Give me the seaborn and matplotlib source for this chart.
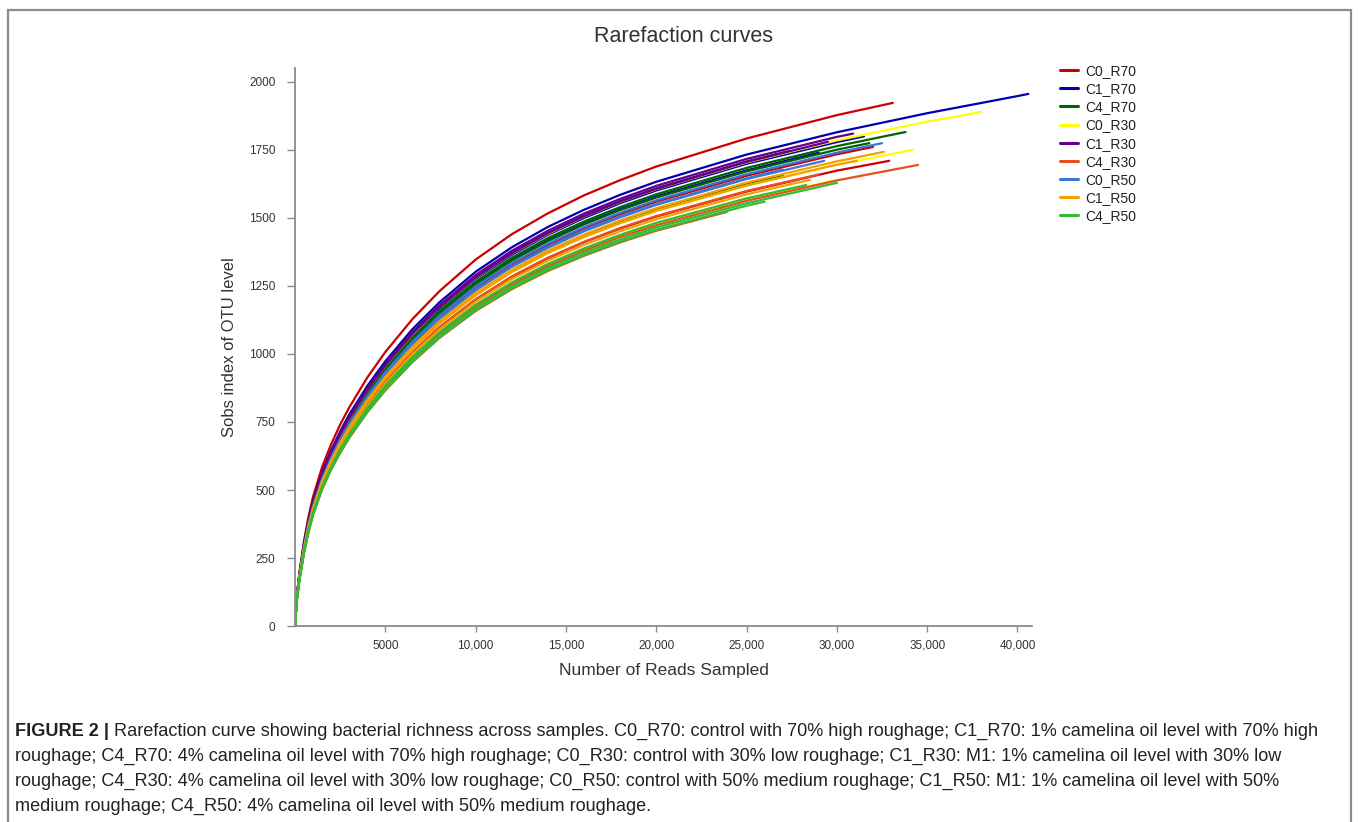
import pandas as pd
import seaborn as sns
import matplotlib.pyplot as plt
from matplotlib.patches import Rectangle
from matplotlib.ticker import FuncFormatter

# Rarefaction grid (reads sampled) shared by all samples
READ_DEPTHS = [0, 100, 250, 500, 750, 1000, 1500, 2000, 2500, 3000, 4000, 5000, 6500,
               8000, 10000, 12000, 14000, 16000, 18000, 20000, 25000, 30000, 35000, 40000]

GROUPS = ["C0_R70", "C1_R70", "C4_R70", "C0_R30", "C1_R30",
          "C4_R30", "C0_R50", "C1_R50", "C4_R50"]
PALETTE = ["#CC0000", "#0000B0", "#006400", "#FFFF00", "#660088",
           "#E8501E", "#3A75D8", "#F5A000", "#33BB33"]

# final sequencing depth of each sample, and Sobs read along the grid (last value = at final depth)
c0_r70_ends = [33100, 32900, 32000]
c0_r70_sobs = [
    [0, 109, 199, 313, 402, 475, 584, 668, 740, 803, 913, 1007, 1128, 1231, 1347, 1440, 1517, 1583, 1639, 1689, 1792, 1878, 1923],
    [0, 97, 177, 279, 358, 423, 520, 596, 659, 716, 813, 897, 1005, 1097, 1200, 1283, 1352, 1411, 1461, 1505, 1597, 1674, 1710],
    [0, 101, 183, 289, 371, 438, 539, 617, 683, 742, 843, 930, 1042, 1137, 1243, 1330, 1401, 1462, 1514, 1560, 1655, 1734, 1761],
]
c1_r70_ends = [40600, 31500, 29000]
c1_r70_sobs = [
    [0, 106, 192, 302, 389, 459, 564, 646, 715, 777, 882, 973, 1091, 1190, 1302, 1392, 1467, 1530, 1585, 1633, 1733, 1815, 1885, 1948, 1956],
    [0, 104, 188, 296, 381, 450, 553, 633, 701, 761, 865, 954, 1069, 1167, 1276, 1364, 1438, 1500, 1554, 1601, 1699, 1779, 1800],
    [0, 102, 186, 292, 376, 444, 546, 625, 691, 751, 853, 941, 1054, 1151, 1258, 1346, 1418, 1479, 1532, 1579, 1675, 1740],
]
c4_r70_ends = [33800, 31800, 27000]
c4_r70_sobs = [
    [0, 103, 187, 294, 378, 446, 549, 628, 695, 755, 857, 946, 1060, 1157, 1265, 1353, 1426, 1487, 1540, 1587, 1684, 1764, 1816],
    [0, 102, 185, 292, 375, 443, 544, 623, 690, 749, 851, 939, 1052, 1148, 1256, 1343, 1415, 1476, 1529, 1575, 1671, 1751, 1775],
    [0, 99, 180, 284, 365, 430, 529, 606, 671, 728, 827, 913, 1022, 1116, 1220, 1305, 1375, 1435, 1486, 1531, 1625, 1656],
]
c0_r30_ends = [38000, 34200, 30000]
c0_r30_sobs = [
    [0, 104, 189, 297, 382, 451, 555, 635, 703, 764, 868, 957, 1072, 1171, 1280, 1369, 1442, 1505, 1559, 1606, 1704, 1785, 1854, 1890],
    [0, 99, 179, 283, 363, 429, 527, 604, 668, 726, 824, 910, 1019, 1112, 1216, 1301, 1371, 1430, 1481, 1526, 1619, 1696, 1750],
    [0, 95, 173, 273, 351, 414, 510, 583, 646, 701, 797, 879, 985, 1075, 1176, 1257, 1325, 1382, 1431, 1475, 1565, 1640],
]
c1_r30_ends = [30900, 27300, 29500]
c1_r30_sobs = [
    [0, 105, 190, 300, 385, 455, 559, 640, 708, 769, 874, 964, 1080, 1179, 1290, 1379, 1453, 1516, 1570, 1618, 1717, 1798, 1810],
    [0, 104, 189, 298, 383, 452, 556, 637, 705, 765, 869, 959, 1075, 1173, 1283, 1372, 1445, 1508, 1562, 1609, 1708, 1745],
    [0, 104, 189, 298, 383, 452, 556, 636, 704, 765, 868, 958, 1074, 1172, 1281, 1370, 1444, 1506, 1560, 1607, 1706, 1780],
]
c4_r30_ends = [34500, 23900, 29000]
c4_r30_sobs = [
    [0, 95, 173, 273, 351, 414, 509, 583, 645, 701, 796, 878, 984, 1074, 1174, 1256, 1323, 1380, 1430, 1473, 1563, 1638, 1695],
    [0, 94, 171, 269, 346, 408, 502, 575, 636, 691, 785, 866, 970, 1059, 1158, 1238, 1305, 1361, 1410, 1453, 1522],
    [0, 97, 177, 279, 359, 424, 521, 596, 660, 717, 814, 898, 1006, 1099, 1201, 1285, 1354, 1412, 1463, 1507, 1599, 1660],
]
c0_r50_ends = [29300, 32500, 27000]
c0_r50_sobs = [
    [0, 100, 182, 287, 369, 435, 535, 612, 678, 736, 836, 923, 1034, 1128, 1234, 1320, 1390, 1451, 1502, 1548, 1643, 1710],
    [0, 101, 184, 290, 373, 440, 541, 619, 685, 744, 845, 933, 1045, 1141, 1248, 1334, 1406, 1466, 1519, 1565, 1661, 1740, 1775],
    [0, 100, 182, 287, 369, 436, 536, 614, 679, 738, 838, 925, 1036, 1131, 1237, 1322, 1394, 1454, 1506, 1551, 1646, 1678],
]
c1_r50_ends = [32600, 31100, 28500]
c1_r50_sobs = [
    [0, 99, 181, 284, 366, 432, 531, 608, 673, 731, 830, 916, 1026, 1120, 1224, 1309, 1380, 1439, 1491, 1536, 1630, 1708, 1743],
    [0, 99, 179, 283, 363, 429, 527, 604, 668, 726, 824, 910, 1019, 1112, 1216, 1301, 1371, 1430, 1481, 1526, 1619, 1696, 1710],
    [0, 97, 176, 277, 356, 420, 517, 592, 655, 711, 808, 891, 999, 1090, 1192, 1275, 1343, 1401, 1451, 1495, 1587, 1640],
]
c4_r50_ends = [28300, 26000, 30000]
c4_r50_sobs = [
    [0, 96, 174, 274, 353, 416, 512, 586, 649, 705, 800, 883, 989, 1080, 1181, 1263, 1331, 1388, 1438, 1482, 1572, 1621],
    [0, 94, 171, 270, 347, 409, 503, 576, 638, 693, 787, 868, 972, 1061, 1161, 1241, 1308, 1364, 1413, 1456, 1545, 1560],
    [0, 95, 172, 271, 349, 412, 506, 579, 641, 697, 791, 873, 978, 1068, 1168, 1248, 1316, 1372, 1421, 1465, 1554, 1629],
]

GROUP_DATA = [
    (c0_r70_ends, c0_r70_sobs), (c1_r70_ends, c1_r70_sobs), (c4_r70_ends, c4_r70_sobs),
    (c0_r30_ends, c0_r30_sobs), (c1_r30_ends, c1_r30_sobs), (c4_r30_ends, c4_r30_sobs),
    (c0_r50_ends, c0_r50_sobs), (c1_r50_ends, c1_r50_sobs), (c4_r50_ends, c4_r50_sobs),
]

CAPTION_BOLD = "FIGURE 2 | "
CAPTION_LINES = [
    "Rarefaction curve showing bacterial richness across samples. C0_R70: control with 70% high roughage; C1_R70: 1% camelina oil level with 70% high",
    "roughage; C4_R70: 4% camelina oil level with 70% high roughage; C0_R30: control with 30% low roughage; C1_R30: M1: 1% camelina oil level with 30% low",
    "roughage; C4_R30: 4% camelina oil level with 30% low roughage; C0_R50: control with 50% medium roughage; C1_R50: M1: 1% camelina oil level with 50%",
    "medium roughage; C4_R50: 4% camelina oil level with 50% medium roughage.",
]


def build_long_table():
    """Turn the per-group lists into one long table for seaborn."""
    rows = []
    for group, (ends, sobs_list) in zip(GROUPS, GROUP_DATA):
        for rep, (end, sobs) in enumerate(zip(ends, sobs_list)):
            depths = [d for d in READ_DEPTHS if d < end] + [end]
            assert len(depths) == len(sobs), (group, rep, len(depths), len(sobs))
            for d, s in zip(depths, sobs):
                rows.append({"group": group, "sample": f"{group}_{rep}", "reads": d, "sobs": s})
    return pd.DataFrame(rows)


def main():
    sns.set_style("white")
    plt.rcParams["font.family"] = ["Liberation Sans", "DejaVu Sans"]

    data = build_long_table()

    fig = plt.figure(figsize=(13.58, 8.22), dpi=100)
    ax = fig.add_axes([0.2172, 0.2384, 0.5427, 0.6788])

    sns.lineplot(data=data, x="reads", y="sobs", hue="group", units="sample",
                 estimator=None, sort=False, palette=PALETTE, hue_order=GROUPS,
                 linewidth=1.6, ax=ax)

    ax.set_xlim(0, 40800)
    ax.set_ylim(0, 2051)
    ax.set_xticks([5000, 10000, 15000, 20000, 25000, 30000, 35000, 40000])
    ax.set_yticks(range(0, 2001, 250))
    ax.xaxis.set_major_formatter(FuncFormatter(lambda v, p: f"{int(v):,}" if v >= 10000 else f"{int(v)}"))

    for side in ["top", "right"]:
        ax.spines[side].set_visible(False)
    for side in ["left", "bottom"]:
        ax.spines[side].set_color("#8a8a8a")
        ax.spines[side].set_linewidth(1.3)
    ax.tick_params(axis="y", length=6, width=1, color="#8a8a8a", pad=8, labelsize=8.5, labelcolor="#333333")
    ax.tick_params(axis="x", length=4, width=1, color="#8a8a8a", pad=6, labelsize=8.5, labelcolor="#333333")
    ax.tick_params(left=True, bottom=True)

    ax.set_xlabel("Number of Reads Sampled", fontsize=12.5, color="#333333", labelpad=8)
    ax.set_ylabel("Sobs index of OTU level", fontsize=12, color="#333333", labelpad=9)

    fig.text(0.503, 1 - 37 / 822, "Rarefaction curves", ha="center", va="center",
             fontsize=15.5, color="#333333")

    handles, labels = ax.get_legend_handles_labels()
    ax.get_legend().remove()
    leg = fig.legend(handles, labels, loc="upper left", bbox_to_anchor=(1060 / 1358, 1 - 64 / 822),
                     frameon=False, fontsize=10, handlelength=1.3, handletextpad=0.55,
                     labelspacing=0.30, borderpad=0, borderaxespad=0)
    for line in leg.get_lines():
        line.set_linewidth(2.2)
    for txt in leg.get_texts():
        txt.set_color("#222222")

    # outer figure frame
    fig.patches.append(Rectangle((8 / 1358, -0.05), 1343 / 1358, 0.05 + 1 - 10 / 822,
                                 transform=fig.transFigure, fill=False,
                                 edgecolor="#8c8c8c", linewidth=1.6))

    # caption below the chart
    cap_size = 13.1
    y0 = 731
    bold = fig.text(15 / 1358, 1 - y0 / 822, CAPTION_BOLD, ha="left", va="center",
                    fontsize=cap_size, fontweight="bold", color="#222222")
    fig.canvas.draw()
    bb = bold.get_window_extent()
    x_after = bb.x1 / fig.bbox.width
    for i, line in enumerate(CAPTION_LINES):
        x = x_after if i == 0 else 15 / 1358
        fig.text(x, 1 - (y0 + 25 * i) / 822, line, ha="left", va="center",
                 fontsize=cap_size, color="#222222")

    fig.savefig("out.png", dpi=100)


if __name__ == "__main__":
    main()
